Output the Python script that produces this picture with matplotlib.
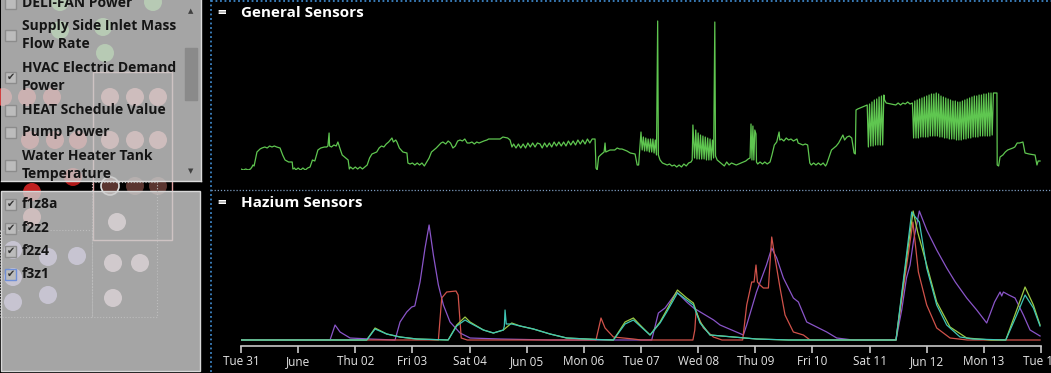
import numpy as np
import matplotlib.pyplot as plt
from matplotlib.patches import Rectangle, Circle

W, H = 1051, 373

def rect(l, t, r, b):
    # pixel box -> figure fraction
    return [l / W, 1 - b / H, (r - l) / W, (b - t) / H]

# hours from Tue May 31 00:00
tick_hours = list(range(0, 337, 24))
tick_labels = ['Tue 31', 'June', 'Thu 02', 'Fri 03', 'Sat 04', 'Jun 05', 'Mon 06',
               'Tue 07', 'Wed 08', 'Thu 09', 'Fri 10', 'Sat 11', 'Jun 12', 'Mon 13', 'Tue 14']

# General Sensors: HVAC Electric Demand Power (hour, value)
general_pts = [
    (0, 1), (1, 0), (2, 1), (3, 0), (4, 1), (4.6, 3), (5, 5), (5.5, 4), (6.7, 18), (8, 21), (8.8, 22),
    (10, 23), (11, 22), (12, 24), (13, 23), (14, 24), (15, 23), (16.4, 22), (17.5, 15), (18.5, 10),
    (20, 8), (21.5, 8), (21.8, 1), (22.5, 2), (23, 0), (24, 2), (25, 0), (26, 2), (27, 0), (28, 2),
    (29, 3), (30, 10), (31, 9), (32.3, 20), (33.5, 22), (35, 23), (36, 23), (36.5, 24), (37, 37),
    (37.2, 24), (38, 23), (39, 25), (40, 24), (40.7, 28), (41.5, 22), (42.5, 15), (43.5, 13), (45, 10),
    (45.5, 1), (46, 3), (47, 1), (48, 3), (49, 1), (50, 3), (51, 1), (52, 3), (53, 5), (54, 12),
    (55, 16), (57, 18), (58, 22), (59, 24), (60, 23), (61, 26), (62, 28), (63.4, 32), (64, 28),
    (65, 30), (65.5, 28), (66.5, 22), (68, 18), (69.7, 17), (70.1, 7), (71, 6), (72, 7), (73, 5),
    (74, 7), (75, 5), (76, 7), (77, 4), (78, 8), (79, 12), (80, 18), (82, 22), (84, 27), (84.8, 28),
    (86, 26), (87, 29), (88, 27), (89, 22), (90, 24), (91, 29), (92, 30), (93, 29), (94, 31), (95, 27),
    (96, 27), (97, 28), (98, 26), (99, 28), (100, 27), (101, 28), (102, 29), (103.3, 30), (104, 31),
    (106, 31), (108.8, 31), (110, 33), (112, 32), (113, 30), (113.8, 23), (114.5, 26), (115.5, 22),
    (116.5, 26), (117.5, 22), (118.5, 26), (119.5, 22), (120.5, 27), (121.5, 23), (122.5, 27),
    (123.5, 23), (124.5, 27), (125.6, 26), (126.5, 22), (127.5, 27), (128.5, 23), (129.5, 27),
    (130.5, 23), (131.5, 28), (132.5, 24), (133.5, 28), (134.5, 24), (135.5, 28), (136.5, 24),
    (137.5, 29), (138.5, 25), (139.5, 29), (140.5, 25), (141.5, 30), (142.5, 26), (143.5, 30),
    (144.5, 26), (145.5, 31), (146.5, 27), (147.5, 31), (148.7, 31), (149.1, 2), (149.6, 0),
    (150.2, 13), (151, 15), (152.5, 18), (152.9, 27), (153.2, 18), (155, 20), (157, 20), (158, 22),
    (159, 21), (160, 21), (162.1, 19), (163.5, 17), (165.5, 16), (166.4, 5), (167, 5), (168, 38),
    (168.5, 20), (169, 33), (169.5, 19), (170, 32), (170.5, 19), (171, 31), (171.5, 18), (172, 31),
    (172.5, 18), (173, 31), (173.5, 17), (174, 30), (174.5, 15), (175, 149), (175.3, 15), (176, 10),
    (177, 7), (178, 6), (179, 5), (180, 6), (181, 4), (182, 5), (183, 3), (184, 5), (185, 3), (186, 6),
    (187, 4), (188, 7), (189, 8), (189.5, 10), (189.8, 45), (190.5, 12), (191, 40), (191.5, 11),
    (192, 37), (192.5, 11), (193, 35), (193.5, 11), (194, 34), (194.5, 11), (195, 33), (195.5, 10),
    (196, 32), (196.5, 10), (197, 31), (197.5, 10), (198, 30), (198.5, 12), (199, 148), (199.3, 14),
    (200, 10), (201, 8), (202, 6), (203, 4), (204, 8), (205, 5), (206, 7), (207, 6), (208, 5), (209, 6),
    (210, 7), (211, 8), (212, 9), (213, 11), (213.8, 12), (214.2, 46), (214.6, 10), (215, 44),
    (215.4, 10), (215.8, 40), (216.3, 36), (216.5, 8), (217, 6), (218, 8), (219, 6), (220, 8), (221, 6),
    (222.2, 8), (223, 15), (224, 25), (225, 28), (226, 38), (226.3, 30), (227, 31), (228, 29), (229, 32),
    (230, 30), (231, 31), (232, 29), (233.5, 31), (234, 27), (235, 26), (236, 25), (237, 26), (238, 25),
    (238.9, 7), (239.5, 5), (240.5, 7), (241.5, 5), (242.5, 7), (243.5, 5), (244.5, 7), (245.5, 4),
    (246, 6), (247, 13), (248, 20), (250, 24), (251, 27), (252.8, 35), (253.5, 30), (254.5, 33),
    (255.5, 34), (256.5, 32), (257.5, 17), (258, 16), (258.3, 60), (259, 61), (260, 62), (261, 63),
    (262, 64), (263, 65), (263.5, 23), (264, 66), (264.5, 24), (265, 68), (265.5, 24), (266, 70),
    (266.5, 25), (267, 71), (267.5, 25), (268, 73), (268.5, 25), (269, 74), (269.5, 25), (270, 75),
    (270.3, 70), (271, 67), (273, 66), (275, 65), (276, 67), (277, 65), (278, 67), (279, 66), (280, 68),
    (281, 66), (282, 67), (282.5, 32), (283, 69), (283.5, 32), (284, 70), (284.5, 32), (285, 71),
    (285.5, 33), (286, 72), (286.5, 33), (287, 73), (287.5, 33), (288, 74), (288.5, 33), (289, 75),
    (289.5, 34), (290, 76), (290.5, 34), (291, 76), (291.5, 34), (292, 77), (292.5, 34), (293, 76),
    (293.5, 33), (294, 74), (294.5, 33), (295, 73), (295.5, 32), (296, 72), (296.5, 32), (297, 71),
    (297.5, 31), (298, 70), (298.5, 31), (299, 69), (299.5, 31), (300, 69), (300.5, 30), (301, 68),
    (301.5, 30), (302, 68), (302.5, 30), (303, 69), (303.5, 31), (304, 70), (304.5, 31), (305, 71),
    (305.5, 32), (306, 72), (306.5, 32), (307, 73), (307.5, 33), (308, 74), (308.5, 33), (309, 74),
    (309.5, 33), (310, 75), (310.5, 34), (311, 75), (311.5, 34), (312, 76), (312.5, 34), (313, 76),
    (313.5, 34), (314, 77), (314.5, 34), (315, 77), (315.5, 35), (316, 77), (317.5, 77), (317.6, 5),
    (318.2, 4), (318.8, 13), (320, 15), (321, 18), (322, 20), (324.2, 22), (325, 23), (326, 27),
    (327, 27), (328.4, 28), (329.3, 17), (331, 16), (333.5, 15), (334.3, 5), (334.8, 9), (335.6, 9),
]

# Hazium Sensors (hour, concentration)
f1z8a_pts = [
    (0, 0), (37.4, 0), (39.5, 15), (41.6, 8), (45.8, 2), (54, 1), (64.7, 0), (66.8, 18), (69.6, 28),
    (71.7, 33), (73, 34), (75.2, 58), (77.3, 92), (79, 115), (80.8, 85), (82.9, 55), (85, 35),
    (87.8, 18), (92, 7), (96.2, 2), (108.8, 1), (130, 0), (172.5, 0), (175.3, 27), (178.1, 32),
    (183, 48), (187.2, 38), (190.1, 32), (198.5, 20), (201.2, 15), (211, 5), (212.4, 15), (216.5, 48),
    (220.7, 75), (222.9, 92), (225, 82), (227.8, 62), (232, 42), (234.1, 38), (237.6, 18), (241.8, 13),
    (246, 8), (250.2, 2), (257, 0), (275.1, 0), (277.5, 30), (279.5, 62), (281, 75), (282.5, 100),
    (284.9, 129), (288, 110), (292.2, 90), (296.4, 72), (300, 58), (304.8, 42), (309, 30), (313.2, 17),
    (316.5, 38), (318.8, 48), (319.5, 44), (320.2, 48), (322.5, 45), (325.1, 42), (328.6, 25),
    (331.4, 10), (335.6, 4),
]
f2z2_pts = [
    (0, 0), (82.9, 0), (84.3, 42), (86.4, 48), (90.3, 49), (91.2, 45), (92.5, 2), (95, 0), (149.1, 0),
    (151.2, 22), (152.9, 12), (156.4, 3), (164.8, 1), (168, 0), (189.8, 0), (190.6, 10), (191.1, 28),
    (194.2, 12), (198.4, 3), (202, 0), (210.7, 0), (212.4, 35), (214.5, 58), (215.5, 58), (216.3, 75),
    (216.9, 58), (218, 55), (219.4, 52), (221.5, 52), (222.9, 103), (224.3, 82), (226.4, 52),
    (228.5, 25), (232, 8), (236.2, 5), (239, 0), (275.1, 0), (279.6, 75), (282.2, 118), (284.5, 68),
    (288, 35), (292.2, 12), (297.8, 2), (305, 0), (335.6, 0),
]
f2z4_pts = [
    (0, 0), (52.8, 0), (56.3, 12), (61.2, 6), (66.8, 3), (73.8, 1), (87, 0), (90.6, 15), (94.1, 23),
    (96.2, 18), (101.8, 10), (106, 7), (110.2, 10), (113.7, 17), (117.2, 14), (122.8, 11), (129.8, 6),
    (136.8, 2), (149.4, 0.5), (156.4, 0), (161.3, 18), (164.8, 22), (167.6, 15), (171.8, 5), (176, 18),
    (178.8, 30), (183.3, 50), (187.2, 42), (190, 37), (192.8, 18), (197, 5), (206.8, 3), (216.5, 1),
    (230, 0), (275.1, 0), (280, 90), (282.3, 129), (284.2, 108), (288, 75), (292.2, 38), (297.8, 13),
    (304.8, 2), (315, 0), (321.2, 0), (325.8, 30), (329.3, 53), (332.8, 35), (335.6, 15),
]
f3z1_pts = [
    (0, 0), (52.8, 0), (56.3, 11), (61.2, 6), (66.8, 3), (73.8, 1), (87, 0), (90.6, 14), (94.1, 20),
    (96.2, 17), (101.8, 10), (106, 7), (110.2, 10), (110.6, 14), (110.9, 30), (111.4, 16), (113.7, 16),
    (117.2, 14), (122.8, 11), (129.8, 6), (136.8, 2), (149.4, 0.5), (156.4, 0), (161.3, 16), (164.8, 20),
    (167.6, 14), (171.8, 5), (176, 17), (178.8, 28), (183.3, 47), (187.2, 40), (190, 35), (192.8, 17),
    (197, 5), (206.8, 3), (216.5, 1), (230, 0), (275.1, 0), (279.5, 85), (281.7, 128), (283.2, 123),
    (284.9, 118), (288, 72), (292.2, 35), (296.4, 15), (302, 3), (307.4, 1), (321.2, 0), (325.8, 25),
    (329.3, 45), (332.8, 32), (335.6, 14),
]
hazium = [('f1z8a', f1z8a_pts, '#8a55c9'), ('f2z2', f2z2_pts, '#d0524a'),
          ('f2z4', f2z4_pts, '#9ccb45'), ('f3z1', f3z1_pts, '#3fc6b6')]

# left control panel
sensor_items = [('DELI-FAN Power', 3, False), ('Supply Side Inlet Mass\nFlow Rate', 35, False),
                ('HVAC Electric Demand\nPower', 77, True), ('HEAT Schedule Value', 110, False),
                ('Pump Power', 132, False), ('Water Heater Tank\nTemperature', 165, False)]
zone_items = ['f1z8a', 'f2z2', 'f2z4', 'f3z1']
zone_rows = [204, 228, 251, 274]

# floor plan dots behind the panel (x, y, colour)
dots = [(60, 2, '#5fc650'), (153, 2, '#5fc650'), (60, 30, '#5fc650'), (103, 27, '#5fc650'),
        (105, 53, '#5fc650'),
        (3, 97, '#d04040'), (27, 97, '#d04040'), (52, 97, '#d04040'), (110, 97, '#e08080'),
        (135, 97, '#e08080'), (158, 97, '#e08080'), (30, 140, '#d04040'), (55, 140, '#d04040'),
        (78, 140, '#d04040'), (110, 140, '#e08080'), (135, 140, '#e08080'), (158, 140, '#e08080'),
        (73, 177, '#b01818'), (32, 192, '#c02020'), (135, 186, '#5a3530'), (158, 186, '#5a3530'),
        (32, 217, '#e08080'), (117, 222, '#f0d0d8'), (113, 263, '#f0c8d8'), (140, 263, '#f0c8d8'),
        (113, 298, '#f0c8d8'), (13, 250, '#b8a8f0'), (13, 277, '#b8a8f0'), (48, 257, '#b8a8f0'),
        (77, 256, '#b8a8f0'), (13, 302, '#b8a8f0'), (48, 295, '#b8a8f0')]

fig = plt.figure(figsize=(W / 100, H / 100), dpi=100, facecolor='black')

bg = fig.add_axes([0, 0, 1, 1])
bg.set_xlim(0, W)
bg.set_ylim(H, 0)
bg.axis('off')
bg.set_facecolor('black')

for x, y, c in dots:
    bg.add_patch(Circle((x, y), 9, color=c, lw=0))
bg.add_patch(Circle((110, 186), 9, facecolor='#5a3530', edgecolor='#dddddd', lw=1.2, zorder=3))
bg.add_patch(Rectangle((93, 72), 79, 168, fill=False, ec='#e0a0a0', lw=1, zorder=2))

# translucent panel boxes
bg.add_patch(Rectangle((1, 0), 200, 181, facecolor='#cbcbcb', alpha=0.82, ec='none', zorder=4))
bg.add_patch(Rectangle((1, 191), 199, 181, facecolor='#cbcbcb', alpha=0.82, ec='none', zorder=4))
bg.plot([201, 201], [0, 181], color='#dcdcdc', lw=1, zorder=5)
bg.plot([1, 201], [181, 181], color='#dcdcdc', lw=1, zorder=5)
bg.add_patch(Rectangle((1, 191), 199, 180, fill=False, ec='#d8d8d8', lw=1, zorder=5))
bg.add_patch(Rectangle((0, 230), 92, 87, fill=False, ec='#bdbdbd', lw=0.8, ls=':', zorder=5))
bg.add_patch(Rectangle((92, 182), 65, 135, fill=False, ec='#bdbdbd', lw=0.8, ls=':', zorder=5))

# scrollbar
bg.add_patch(Rectangle((185, 48), 12, 52, color='#8a8a8a', zorder=6))
bg.text(191, 11, '▲', fontsize=5, color='#404040', ha='center', va='center', zorder=6)
bg.text(191, 171, '▼', fontsize=5, color='#404040', ha='center', va='center', zorder=6)

font = ['Open Sans', 'DejaVu Sans']

def checkbox(y, checked, focus=False):
    bg.add_patch(Rectangle((5, y - 5.5), 11, 11, facecolor='#bcbcbc',
                           ec='#6f8fd8' if focus else '#8c8c8c', lw=1, zorder=6))
    if checked:
        bg.text(10.5, y, '✔', fontsize=7, color='#333333', ha='center', va='center',
                family='DejaVu Sans', zorder=7)

for label, y, checked in sensor_items:
    checkbox(y, checked)
    bg.text(22, y, label, fontsize=10, fontweight='bold', color='#151515', va='center',
            family=font, linespacing=1.35, zorder=7)

for i, (name, y) in enumerate(zip(zone_items, zone_rows)):
    checkbox(y, True, focus=(i == 3))
    bg.text(22, y, name, fontsize=10, fontweight='bold', color='#151515', va='center',
            family=font, zorder=7)

# dotted frame lines
bg.plot([210.5, 210.5], [0, H], color='#3d85c6', lw=1.3, ls=(0, (1, 1.5)))
bg.plot([211, W], [1, 1], color='#3d85c6', lw=1.3, ls=(0, (1, 1.5)))
bg.plot([211, W], [190, 190], color='#7d9cc0', lw=0.9, ls=(0, (1, 1.5)))

# titles
for y, title in [(13, 'General Sensors'), (203, 'Hazium Sensors')]:
    bg.text(217, y, '=', fontsize=11, fontweight='bold', color='white', va='center', family=font)
    bg.text(241, y, title, fontsize=11, fontweight='bold', color='white', va='center', family=font)

# General Sensors chart
ax1 = fig.add_axes(rect(241, 20, 1041, 170))
ax1.set_facecolor('none')
gx, gy = np.array(general_pts).T
ax1.plot(gx, gy, color='#5fc650', lw=0.9)
ax1.set_xlim(0, 336)
ax1.set_ylim(0, 150)
ax1.axis('off')

# Hazium Sensors chart
ax2 = fig.add_axes(rect(241, 210, 1041, 346))
ax2.set_facecolor('none')
for name, pts, color in hazium:
    hx, hy = np.array(pts).T
    ax2.plot(hx, hy, color=color, lw=0.9, label=name)
ax2.set_xlim(0, 336)
ax2.set_ylim(-6, 130)
for s in ['top', 'left', 'right']:
    ax2.spines[s].set_visible(False)
ax2.spines['bottom'].set_color('#c8c8c8')
ax2.spines['bottom'].set_linewidth(1.2)
ax2.set_yticks([])
ax2.set_xticks(tick_hours)
ax2.set_xticklabels(tick_labels, family=font)
ax2.tick_params(axis='x', colors='#c8c8c8', labelcolor='#e6e6e6', length=5, width=1.2,
                labelsize=8.5, pad=1.5)

fig.savefig('out.png', dpi=100, facecolor='black')
